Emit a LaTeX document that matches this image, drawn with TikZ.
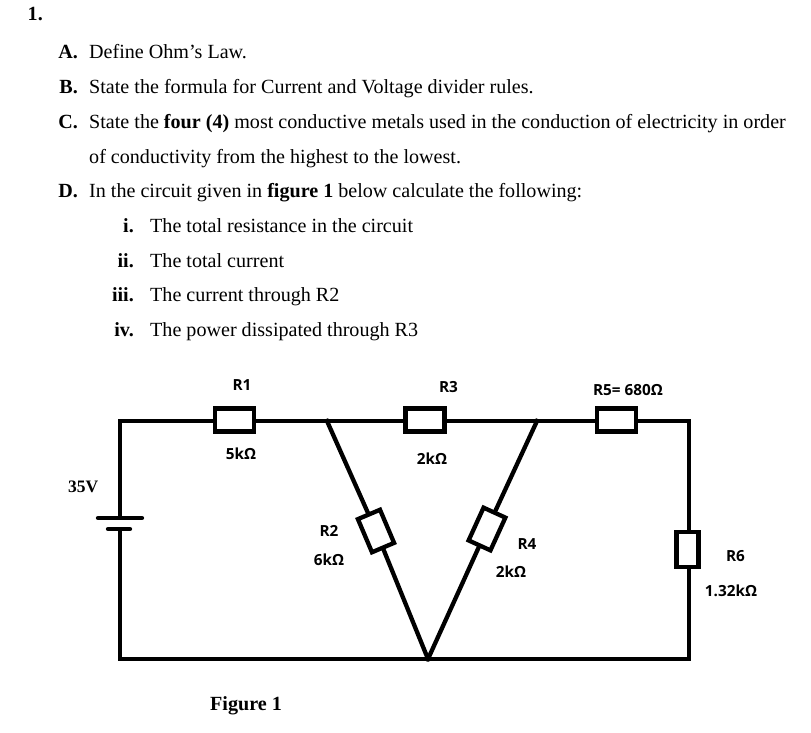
\documentclass[tikz,border=0pt]{standalone}
\usepackage{fontspec}
\setmainfont{Liberation Serif}
\newfontfamily\labelfont{Open Sans}
\tikzset{
  x=1pt,y=-1pt,
  body/.style={anchor=base west,inner sep=0pt,font=\fontsize{20.1}{23}\selectfont},
  mk/.style={anchor=base east,inner sep=0pt,font=\fontsize{20.1}{23}\selectfont\bfseries},
  lab/.style={inner sep=0pt,anchor=base,font=\fontsize{15.3}{17}\labelfont\bfseries},
  wire/.style={line width=4.3pt,line cap=rect,line join=miter},
  res/.style={draw,line width=4.3pt,fill=white,minimum width=39pt,minimum height=23pt,inner sep=0pt,shape=rectangle},
  plate/.style={line width=4.3pt,line cap=round},
}
\begin{document}
\begin{tikzpicture}
\useasboundingbox (0,0) rectangle (811,732);
\node[mk] (n1) at (43,20) {1.};
\node[mk] (mA) at (78,58) {A.};
\node[body] (tA) at (89,58) {Define Ohm’s Law.};
\node[mk] (mB) at (78,93) {B.};
\node[body] (tB) at (89,93) {State the formula for Current and Voltage divider rules.};
\node[mk] (mC) at (78,128) {C.};
\node[body] (tC) at (89,128) {State the \textbf{four (4)} most conductive metals used in the conduction of electricity in order};
\node[body] (tC2) at (89,163) {of conductivity from the highest to the lowest.};
\node[mk] (mD) at (78,197) {D.};
\node[body] (tD) at (89,197) {In the circuit given in \textbf{figure 1} below calculate the following:};
\node[mk] (mi) at (134,232) {i.};
\node[body] (ti) at (150,232) {The total resistance in the circuit};
\node[mk] (mii) at (134,267) {ii.};
\node[body] (tii) at (150,267) {The total current};
\node[mk] (miii) at (134,301) {iii.};
\node[body] (tiii) at (150,301) {The current through R2};
\node[mk] (miv) at (134,336) {iv.};
\node[body] (tiv) at (150,336) {The power dissipated through R3};

\coordinate (TL) at (120,421);
\coordinate (TR) at (689,421);
\coordinate (BL) at (120,659);
\coordinate (BR) at (689,659);
\coordinate (A) at (327,421);
\coordinate (B) at (537,421);
\coordinate (C) at (428,659);
\coordinate (Pa) at (120,518);
\coordinate (Pb) at (120,529);
\coordinate (PaL) at (98,518);
\coordinate (PaR) at (142,518);
\coordinate (PbL) at (108,529);
\coordinate (PbR) at (130,529);

\node[res] (R1) at (234.5,420) {};
\node[res] (R3) at (425,420) {};
\node[res] (R5) at (616.5,420) {};
\node[res,rotate=-90,minimum width=35pt,minimum height=22pt] (R6) at (687.5,549.5) {};
\node[res,rotate=-67,minimum width=36pt,minimum height=24pt] (R2) at (376,531) {};
\node[res,rotate=-114.5,minimum width=36pt,minimum height=24pt] (R4) at (487,529) {};

\draw[wire] (Pa) -- (TL) -- (TL -| R1.west);
\draw[wire] (TL -| R1.east) -- (A) -- (TL -| R3.west);
\draw[wire] (TL -| R3.east) -- (B) -- (TL -| R5.west);
\draw[wire] (TL -| R5.east) -- (TR) -- (TR |- R6.west);
\draw[wire] (TR |- R6.east) -- (BR) -- (C) -- (BL) -- (Pb);
\draw[wire] (A) -- (R2);
\draw[wire] (R2) -- (C);
\draw[wire] (B) -- (R4);
\draw[wire] (R4) -- (C);
\draw[plate] (PaL) -- (PaR);
\draw[plate] (PbL) -- (PbR);

\node[lab] (lR1) at (242,390) {R1};
\node[lab] (v1) at (241,459) {5kΩ};
\node[lab] (lR3) at (448.5,392) {R3};
\node[lab] (v3) at (432,464) {2kΩ};
\node[lab] (lR5) at (628,395) {R5= 680Ω};
\node[lab] (lR2) at (329,536) {R2};
\node[lab] (v2) at (329,565) {6kΩ};
\node[lab] (lR4) at (527,549) {R4};
\node[lab] (v4) at (511,577) {2kΩ};
\node[lab] (lR6) at (735.5,561) {R6};
\node[lab] (v6) at (731,596) {1.32kΩ};
\node[body,font=\fontsize{17.5}{20}\selectfont\bfseries] (bat) at (68,492) {35V};
\node[body,font=\fontsize{20.1}{23}\selectfont\bfseries] (fig) at (210,710) {Figure 1};
\end{tikzpicture}
\end{document}
